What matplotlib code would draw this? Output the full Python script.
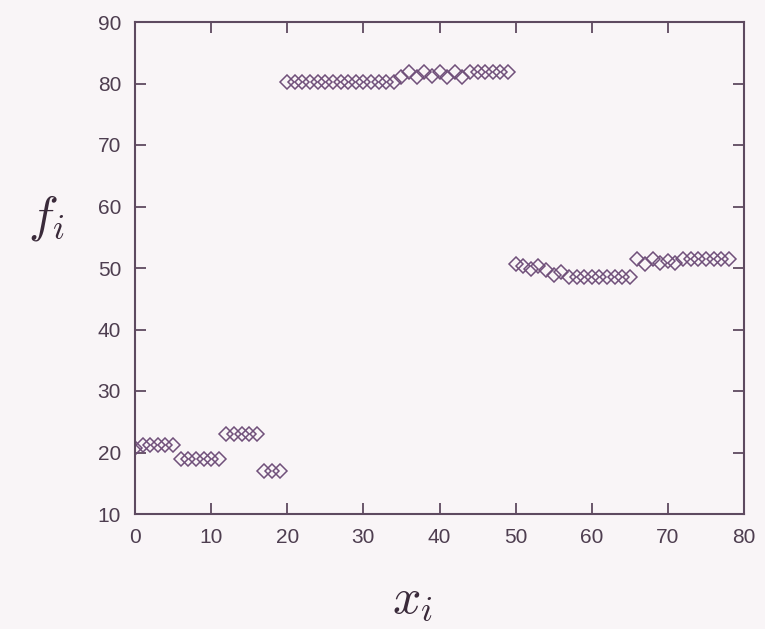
import matplotlib
matplotlib.use("Agg")
import matplotlib.pyplot as plt

x_vals = list(range(0, 79))
f_vals = [
    20.8, 21.2, 21.2, 21.2, 21.2, 21.2,          # 0-5
    19.0, 19.0, 19.0, 19.0, 19.0, 19.0,          # 6-11
    23.0, 23.0, 23.0, 23.0, 23.0,                # 12-16
    17.0, 17.0, 17.0,                            # 17-19
    80.2, 80.2, 80.2, 80.2, 80.2, 80.2, 80.2, 80.2, 80.2, 80.2,  # 20-29
    80.2, 80.2, 80.2, 80.2, 80.2,                # 30-34
    81.0, 81.8, 81.0, 81.8, 81.2, 81.8, 81.0, 81.8, 81.0, 81.8,  # 35-44
    81.8, 81.8, 81.8, 81.8, 81.8,                # 45-49
    50.6, 50.3, 49.8, 50.4, 49.6, 48.8, 49.4, 48.6, 48.6, 48.6,  # 50-59
    48.6, 48.6, 48.6, 48.6, 48.6, 48.6,          # 60-65
    51.4, 50.6, 51.4, 50.8, 51.2, 50.8, 51.4, 51.4, 51.4, 51.4,  # 66-75
    51.4, 51.4, 51.4,                            # 76-78
]
x_ticks = [0, 10, 20, 30, 40, 50, 60, 70, 80]
y_ticks = [10, 20, 30, 40, 50, 60, 70, 80, 90]

ink = "#5e4a60"
marker_col = "#70507a"
bg = "#f9f5f7"

plt.rcParams["font.family"] = ["Liberation Sans", "DejaVu Sans"]
plt.rcParams["mathtext.fontset"] = "cm"

fig = plt.figure(figsize=(7.65, 6.29), dpi=100, facecolor=bg)
ax = fig.add_axes([135 / 765, 1 - 514 / 629, (744 - 135) / 765, (514 - 22) / 629])
ax.set_facecolor(bg)

ax.plot(x_vals, f_vals, linestyle="none", marker="D", markersize=7,
        markerfacecolor="none", markeredgecolor=marker_col, markeredgewidth=1.1)

ax.set_xlim(0, 80)
ax.set_ylim(10, 90)
ax.set_xticks(x_ticks)
ax.set_yticks(y_ticks)
ax.tick_params(direction="in", length=8, width=1.3, color=ink, labelcolor="#4e3e50",
               labelsize=15, top=True, right=True, pad=10)
for s in ax.spines.values():
    s.set_color(ink)
    s.set_linewidth(1.5)

fig.text(412 / 765, 1 - 600 / 629, r"$x_i$", fontsize=36, color="#3a2a3a",
         ha="center", va="center")
fig.text(46 / 765, 1 - 218 / 629, r"$f_i$", fontsize=36, color="#3a2a3a",
         ha="center", va="center")

fig.savefig("out.png", dpi=100, facecolor=bg)
